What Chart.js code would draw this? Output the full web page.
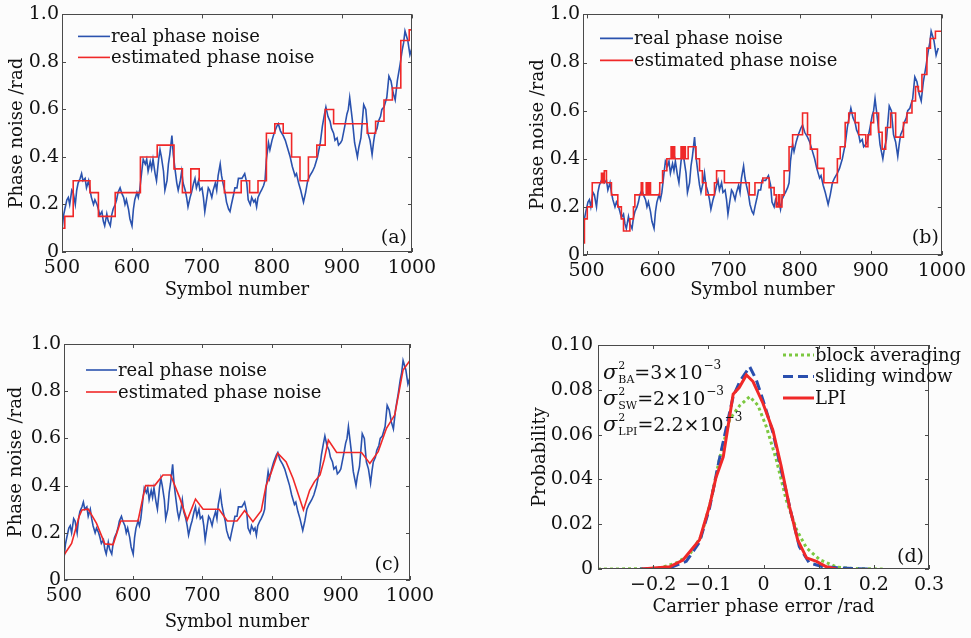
<!DOCTYPE html>
<html>
<head>
<meta charset="utf-8">
<script src="https://cdn.jsdelivr.net/npm/chart.js@4.4.1/dist/chart.umd.min.js"></script>
<style>
    html, body { margin: 0; padding: 0; background: #fcfcfc; }
    body { width: 971px; height: 638px; position: relative; overflow: hidden; }
    canvas { position: absolute; }
</style>
</head>
<body>
<canvas id="chartA" width="485" height="318" style="left:0px;top:0px"></canvas>
<canvas id="chartB" width="481" height="318" style="left:490px;top:0px"></canvas>
<canvas id="chartC" width="485" height="318" style="left:0px;top:320px"></canvas>
<canvas id="chartD" width="481" height="318" style="left:490px;top:320px"></canvas>
<script>
// --- dados ---
// ruído de fase real (mesmo sinal nos painéis a, b, c)
const noiseSym = [
    500, 502, 504, 507, 509, 511, 514, 516, 519, 521, 523, 526, 528, 530, 533, 535, 538, 540, 542, 545,
    547, 550, 552, 554, 557, 559, 561, 564, 566, 569, 571, 573, 576, 578, 580, 583, 585, 588, 590, 592,
    595, 597, 600, 602, 604, 607, 609, 611, 614, 616, 619, 621, 623, 626, 628, 630, 633, 635, 638, 640,
    642, 645, 647, 650, 652, 654, 657, 659, 661, 664, 666, 669, 671, 673, 676, 678, 680, 683, 685, 688,
    690, 692, 695, 697, 700, 702, 704, 707, 709, 711, 714, 716, 719, 721, 723, 726, 728, 730, 733, 735,
    738, 740, 742, 745, 747, 750, 752, 755, 757, 761, 764, 766, 769, 771, 774, 776, 778, 780, 783, 785,
    788, 790, 792, 795, 797, 800, 803, 807, 809, 812, 816, 819, 822, 826, 829, 833, 835, 838, 841, 845,
    848, 851, 854, 858, 861, 865, 869, 872, 875, 877, 880, 883, 885, 888, 890, 893, 895, 898, 900, 904,
    907, 909, 911, 913, 915, 918, 920, 922, 924, 927, 929, 931, 934, 937, 940, 943, 945, 947, 950, 952,
    955, 957, 960, 962, 964, 967, 970, 973, 976, 979, 983, 986, 988, 990, 992, 994, 997, 1000
];
const noisePhase = [
    0.09, 0.15, 0.18, 0.22, 0.23, 0.20, 0.26, 0.25, 0.20, 0.26, 0.29, 0.31, 0.33, 0.30, 0.31, 0.27, 0.30, 0.26, 0.23, 0.20,
    0.22, 0.20, 0.18, 0.155, 0.17, 0.13, 0.11, 0.16, 0.13, 0.11, 0.155, 0.18, 0.20, 0.22, 0.25, 0.27, 0.25, 0.23, 0.20, 0.22,
    0.18, 0.14, 0.11, 0.18, 0.22, 0.25, 0.23, 0.26, 0.34, 0.39, 0.37, 0.39, 0.34, 0.38, 0.35, 0.39, 0.33, 0.30, 0.39, 0.43,
    0.40, 0.34, 0.26, 0.30, 0.37, 0.41, 0.49, 0.41, 0.36, 0.29, 0.26, 0.30, 0.34, 0.29, 0.26, 0.23, 0.19, 0.23, 0.25, 0.29,
    0.31, 0.27, 0.30, 0.26, 0.27, 0.23, 0.17, 0.23, 0.27, 0.26, 0.23, 0.26, 0.29, 0.26, 0.32, 0.37, 0.32, 0.29, 0.25, 0.21,
    0.18, 0.17, 0.20, 0.24, 0.27, 0.27, 0.31, 0.31, 0.31, 0.33, 0.29, 0.22, 0.20, 0.23, 0.21, 0.22, 0.19, 0.23, 0.25, 0.26,
    0.28, 0.30, 0.39, 0.46, 0.43, 0.47, 0.50, 0.53, 0.54, 0.51, 0.49, 0.47, 0.44, 0.40, 0.36, 0.32, 0.33, 0.29, 0.26, 0.21,
    0.25, 0.30, 0.32, 0.34, 0.36, 0.40, 0.46, 0.53, 0.58, 0.61, 0.57, 0.55, 0.52, 0.50, 0.47, 0.48, 0.45, 0.46, 0.47, 0.53,
    0.58, 0.60, 0.65, 0.60, 0.55, 0.46, 0.43, 0.40, 0.44, 0.48, 0.55, 0.62, 0.60, 0.50, 0.47, 0.41, 0.46, 0.50, 0.52, 0.55,
    0.57, 0.60, 0.61, 0.63, 0.65, 0.74, 0.72, 0.67, 0.64, 0.72, 0.79, 0.85, 0.88, 0.93, 0.91, 0.89, 0.83, 0.86
];
// no painel (b) a curva real aparece deslocada ~5 símbolos à esquerda
const noiseShiftB = -5;

// (a) média por blocos: início de cada bloco e valor
const blockSym   = [500, 504, 516, 540, 552, 576, 612, 636, 660, 672, 684, 696, 732, 756, 768, 780, 792, 804, 816, 828, 840, 852, 864, 876, 888, 936, 948, 960, 972, 984, 996, 1000];
const blockPhase = [0.10, 0.15, 0.30, 0.25, 0.15, 0.25, 0.40, 0.45, 0.35, 0.25, 0.35, 0.30, 0.25, 0.30, 0.25, 0.30, 0.50, 0.54, 0.50, 0.40, 0.30, 0.40, 0.45, 0.60, 0.54, 0.50, 0.55, 0.64, 0.69, 0.89, 0.935, 0.935];

// (b) janela deslizante (degraus)
const slideSym = [
    495, 497, 501, 508, 521, 523, 525, 528, 535, 544, 549, 552, 561, 566, 568, 577, 579, 584, 586, 588,
    590, 603, 607, 613, 619, 621, 622, 624, 633, 635, 637, 639, 643, 654, 659, 663, 668, 680, 683, 694,
    729, 737, 748, 757, 764, 767, 770, 772, 775, 778, 785, 790, 804, 811, 815, 825, 834, 853, 857, 864,
    869, 878, 883, 893, 896, 900, 904, 911, 916, 921, 928, 935, 946, 951, 958, 963, 967, 972, 979, 984,
    991, 1000
];
const slidePhase = [
    0.05, 0.15, 0.20, 0.30, 0.34, 0.30, 0.35, 0.30, 0.25, 0.20, 0.15, 0.10, 0.15, 0.20, 0.25, 0.30, 0.25, 0.30, 0.25, 0.30,
    0.25, 0.30, 0.35, 0.40, 0.45, 0.40, 0.45, 0.40, 0.45, 0.40, 0.45, 0.40, 0.45, 0.40, 0.35, 0.30, 0.25, 0.30, 0.35, 0.30,
    0.25, 0.30, 0.32, 0.28, 0.25, 0.20, 0.25, 0.20, 0.25, 0.35, 0.45, 0.50, 0.59, 0.50, 0.44, 0.36, 0.30, 0.40, 0.45, 0.55,
    0.59, 0.55, 0.50, 0.45, 0.50, 0.55, 0.59, 0.51, 0.44, 0.53, 0.59, 0.49, 0.55, 0.59, 0.64, 0.70, 0.68, 0.75, 0.86, 0.90,
    0.93, 0.93
];

// (c) interpolação (LPI)
const interpSym   = [500, 511, 522, 526, 535, 547, 559, 571, 582, 607, 614, 618, 631, 643, 654, 667, 678, 690, 701, 724, 736, 750, 761, 773, 785, 792, 800, 809, 821, 831, 846, 855, 862, 870, 876, 882, 894, 930, 942, 954, 966, 978, 990, 1000];
const interpPhase = [0.106, 0.155, 0.27, 0.297, 0.30, 0.24, 0.153, 0.15, 0.25, 0.25, 0.35, 0.40, 0.40, 0.445, 0.445, 0.35, 0.254, 0.343, 0.30, 0.30, 0.25, 0.25, 0.294, 0.247, 0.294, 0.40, 0.46, 0.537, 0.50, 0.43, 0.297, 0.38, 0.417, 0.445, 0.51, 0.593, 0.54, 0.54, 0.494, 0.544, 0.643, 0.70, 0.89, 0.93];

// (d) distribuição do erro de fase
const baErr  = [-0.30, -0.22, -0.188, -0.158, -0.134, -0.113, -0.095, -0.08, -0.061, -0.043, -0.025, -0.010, 0.005, 0.023, 0.041, 0.060, 0.078, 0.102, 0.132, 0.162, 0.216];
const baProb = [0, 0.0001, 0.0005, 0.0027, 0.0064, 0.0146, 0.031, 0.049, 0.067, 0.073, 0.077, 0.073, 0.0636, 0.049, 0.031, 0.0175, 0.0094, 0.0042, 0.0009, 0.0002, 0];
const swErr  = [-0.224, -0.17, -0.14, -0.116, -0.098, -0.08, -0.055, -0.043, -0.025, -0.013, -0.001, 0.017, 0.035, 0.050, 0.065, 0.083, 0.108, 0.162, 0.198];
const swProb = [0, 0.0005, 0.0034, 0.012, 0.027, 0.049, 0.077, 0.0837, 0.0903, 0.0844, 0.0755, 0.061, 0.041, 0.025, 0.010, 0.0027, 0.001, 0.0002, 0];
const lpiErr  = [-0.221, -0.17, -0.146, -0.116, -0.098, -0.086, -0.073, -0.055, -0.044, -0.031, -0.019, -0.001, 0.017, 0.032, 0.047, 0.062, 0.078, 0.096, 0.114, 0.132];
const lpiProb = [0, 0.001, 0.004, 0.013, 0.028, 0.041, 0.050, 0.078, 0.081, 0.0866, 0.0837, 0.074, 0.062, 0.046, 0.028, 0.013, 0.005, 0.0034, 0.001, 0];

// marcas dos eixos
const symbolTicks = [500, 600, 700, 800, 900, 1000];
const phaseTicks = [0, 0.2, 0.4, 0.6, 0.8, 1.0];
const errTicks = [-0.2, -0.1, 0, 0.1, 0.2, 0.3];
const probTicks = [0, 0.02, 0.04, 0.06, 0.08, 0.10];

// --- estilo ---
const FONT = 'DejaVu Serif';
const TXT = '#111';
const BLUE = '#2a52ae';
const RED = '#f02828';
const GREEN = '#7cc840';
const DBLUE = '#2a4fae';
const TICK_SIZE = 19;
const TITLE_SIZE = 18;
const TITLE_LH = TITLE_SIZE * 1.2;

Chart.defaults.font.family = FONT;
Chart.defaults.font.size = 18;
Chart.defaults.color = TXT;
Chart.defaults.animation = false;

const pts = (xs, ys, dx = 0) => xs.map((x, i) => ({ x: x + dx, y: ys[i] }));

// moldura, marcas internas, legenda interna e rótulo do painel
const framePlugin = {
    id: 'frame',
    afterDatasetsDraw(chart, args, o) {
        const { ctx, chartArea: a, scales } = chart;
        ctx.save();
        ctx.strokeStyle = '#4a4a4a';
        ctx.lineWidth = 1;
        ctx.setLineDash([]);
        ctx.strokeRect(Math.round(a.left) + 0.5, Math.round(a.top) + 0.5, Math.round(a.width) - 1, Math.round(a.height) - 1);
        const tl = 4;
        ctx.beginPath();
        scales.x.ticks.forEach(t => {
            const px = Math.round(scales.x.getPixelForValue(t.value)) + 0.5;
            ctx.moveTo(px, a.bottom); ctx.lineTo(px, a.bottom - tl);
            ctx.moveTo(px, a.top); ctx.lineTo(px, a.top + tl);
        });
        scales.y.ticks.forEach(t => {
            const py = Math.round(scales.y.getPixelForValue(t.value)) + 0.5;
            ctx.moveTo(a.left, py); ctx.lineTo(a.left + tl, py);
            ctx.moveTo(a.right, py); ctx.lineTo(a.right - tl, py);
        });
        ctx.stroke();

        // legenda
        ctx.font = `${o.legendSize}px "${FONT}"`;
        ctx.textBaseline = 'middle';
        ctx.textAlign = 'left';
        chart.data.datasets.forEach((ds, i) => {
            const y = a.top + o.legendY + i * o.legendRow;
            const x0 = a.left + o.legendX;
            ctx.strokeStyle = ds.borderColor;
            ctx.lineWidth = ds.borderWidth;
            ctx.setLineDash(ds.borderDash || []);
            ctx.beginPath();
            ctx.moveTo(x0, y);
            ctx.lineTo(x0 + o.legendLen, y);
            ctx.stroke();
            ctx.fillStyle = TXT;
            ctx.fillText(ds.label, x0 + o.legendLen + 1, y + 1);
        });
        ctx.setLineDash([]);

        // rótulo (a), (b)...
        ctx.font = `${o.tagSize}px "${FONT}"`;
        ctx.textAlign = 'right';
        ctx.fillText(o.tag, a.right - o.tagRight, a.bottom - o.tagBottom);

        // variâncias no painel (d)
        if (o.sigma) {
            ctx.textAlign = 'left';
            ctx.textBaseline = 'alphabetic';
            [['BA', '=3\u00d710'], ['SW', '=2\u00d710'], ['LPI', '=2.2\u00d710']].forEach(([sub, rest], i) => {
                const x = a.left + 5;
                const y = a.top + 34 + i * 26;
                ctx.font = `italic 21px "${FONT}"`;
                ctx.fillText('\u03c3', x, y);
                const w = ctx.measureText('\u03c3').width;
                ctx.font = `11px "${FONT}"`;
                ctx.fillText('2', x + w + 1, y - 10);
                ctx.fillText(sub, x + w + 1, y + 4);
                const sw = Math.max(ctx.measureText('2').width, ctx.measureText(sub).width);
                let cx = x + w + 1 + sw;
                ctx.font = `19px "${FONT}"`;
                ctx.fillText(rest, cx, y);
                cx += ctx.measureText(rest).width;
                ctx.font = `12px "${FONT}"`;
                ctx.fillText('\u22123', cx + 1, y - 10);
            });
        }
        ctx.restore();
    }
};

// geometria: canvas, área do gráfico e posição dos títulos (px da página)
function buildLayout(g) {
    const half = TITLE_LH / 2;
    const padLeft = g.yTitleX - half - g.cl;
    return {
        padding: {
            left: padLeft,
            top: g.pt - g.ct,
            right: g.cl + g.cw - g.pr,
            bottom: g.ct + g.ch - g.xTitleY - half
        },
        yWidth: g.pl - g.cl - padLeft,
        xHeight: g.xTitleY + half - g.pb
    };
}

const fmt1 = v => (Math.abs(v) < 1e-9 ? '0' : v.toFixed(1));
const fmtErr = v => {
    if (Math.abs(v) < 1e-9) return '0';
    return (v < 0 ? '\u2212' : '') + Math.abs(v).toFixed(1);
};
const fmtProb = v => (Math.abs(v) < 1e-9 ? '0' : v.toFixed(2));

function makeChart(id, geom, datasets, axes, frameOpts) {
    const L = buildLayout(geom);
    return new Chart(document.getElementById(id), {
        type: 'line',
        data: { datasets },
        options: {
            responsive: false,
            animation: false,
            parsing: false,
            layout: { padding: L.padding, autoPadding: false },
            elements: { point: { radius: 0 }, line: { tension: 0 } },
            plugins: { legend: { display: false }, tooltip: { enabled: false }, frame: frameOpts },
            scales: {
                x: {
                    type: 'linear',
                    min: axes.xMin, max: axes.xMax,
                    afterBuildTicks: s => { s.ticks = axes.xTicks.map(value => ({ value })); },
                    afterFit: s => { s.height = L.xHeight; },
                    grid: { display: false, drawTicks: false },
                    border: { display: false },
                    ticks: { padding: axes.xPad, maxRotation: 0, autoSkip: false, callback: axes.xFmt, font: { size: TICK_SIZE } },
                    title: { display: true, text: axes.xTitle, padding: 0, font: { size: TITLE_SIZE } }
                },
                y: {
                    min: axes.yMin, max: axes.yMax,
                    afterBuildTicks: s => { s.ticks = axes.yTicks.map(value => ({ value })); },
                    afterFit: s => { s.width = L.yWidth; },
                    grid: { display: false, drawTicks: false },
                    border: { display: false },
                    ticks: { padding: axes.yPad, autoSkip: false, callback: axes.yFmt, font: { size: TICK_SIZE } },
                    title: { display: true, text: axes.yTitle, padding: 0, font: { size: TITLE_SIZE } }
                }
            }
        },
        plugins: [framePlugin]
    });
}

const phaseAxes = {
    xMin: 500, xMax: 1000, xTicks: symbolTicks, xFmt: v => String(v), xPad: 5, xTitle: 'Symbol number',
    yMin: 0, yMax: 1, yTicks: phaseTicks, yFmt: fmt1, yPad: 3, yTitle: 'Phase noise /rad'
};

const realDs = (dx) => ({ label: 'real phase noise', data: pts(noiseSym, noisePhase, dx), borderColor: BLUE, borderWidth: 1.6, order: 2 });

makeChart('chartA',
    { cl: 0, ct: 0, cw: 485, ch: 318, pl: 62, pt: 14, pr: 412, pb: 252, yTitleX: 17, xTitleY: 290 },
    [realDs(0),
     { label: 'estimated phase noise', data: pts(blockSym, blockPhase), borderColor: RED, borderWidth: 1.6, stepped: true, order: 1 }],
    phaseAxes,
    { legendX: 16, legendY: 22, legendRow: 21, legendLen: 32, legendSize: 18, tag: '(a)', tagSize: 19, tagRight: 5, tagBottom: 14 });

makeChart('chartB',
    { cl: 490, ct: 0, cw: 481, ch: 318, pl: 583, pt: 9, pr: 943, pb: 255, yTitleX: 538, xTitleY: 290 },
    [realDs(noiseShiftB),
     { label: 'estimated phase noise', data: pts(slideSym, slidePhase), borderColor: RED, borderWidth: 1.6, stepped: true, order: 1 }],
    Object.assign({}, phaseAxes, { xMin: 495 }),
    { legendX: 17, legendY: 24, legendRow: 22, legendLen: 33, legendSize: 18, tag: '(b)', tagSize: 19, tagRight: 3, tagBottom: 17 });

makeChart('chartC',
    { cl: 0, ct: 320, cw: 485, ch: 318, pl: 64, pt: 344, pr: 410, pb: 580, yTitleX: 16, xTitleY: 622 },
    [realDs(0),
     { label: 'estimated phase noise', data: pts(interpSym, interpPhase), borderColor: RED, borderWidth: 1.6, order: 1 }],
    phaseAxes,
    { legendX: 22, legendY: 26, legendRow: 22, legendLen: 31, legendSize: 18, tag: '(c)', tagSize: 19, tagRight: 10, tagBottom: 15 });

makeChart('chartD',
    { cl: 490, ct: 320, cw: 481, ch: 318, pl: 598, pt: 345, pr: 929, pb: 569, yTitleX: 540, xTitleY: 607 },
    [{ label: 'block averaging', data: pts(baErr, baProb), borderColor: GREEN, borderWidth: 3, borderDash: [3, 3], order: 3 },
     { label: 'sliding window', data: pts(swErr, swProb), borderColor: DBLUE, borderWidth: 3, borderDash: [10, 5], order: 2 },
     { label: 'LPI', data: pts(lpiErr, lpiProb), borderColor: RED, borderWidth: 3, order: 1 }],
    {
        xMin: -0.3, xMax: 0.3, xTicks: errTicks, xFmt: fmtErr, xPad: 5, xTitle: 'Carrier phase error /rad',
        yMin: 0, yMax: 0.1, yTicks: probTicks, yFmt: fmtProb, yPad: 5, yTitle: 'Probability'
    },
    { legendX: 185, legendY: 10, legendRow: 21.5, legendLen: 31, legendSize: 18, tag: '(d)', tagSize: 19, tagRight: 5, tagBottom: 12, sigma: true });
</script>
</body>
</html>
